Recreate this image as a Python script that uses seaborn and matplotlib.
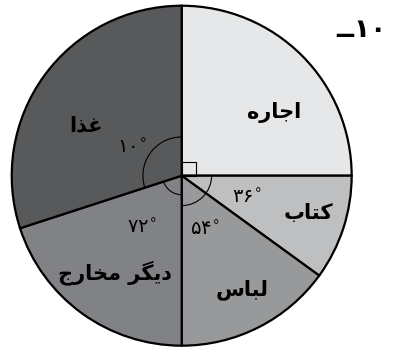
import numpy as np
import seaborn as sns
import matplotlib.pyplot as plt
from matplotlib.patches import Arc, Rectangle

# Data (degrees of each slice, clockwise from the top)
categories = ["اجاره", "کتاب", "لباس", "دیگر مخارج", "غذا"]
angles = [90, 36, 54, 72, 108]
angle_labels = ["", "۳۶", "۵۴", "۷۲", "۱۰"]
colors = ["#e6e7e8", "#bebfc1", "#98999b", "#818285", "#58595b"]
title = "ــ۱۰"

sns.set_theme(style="white")
plt.rcParams["font.family"] = ["DejaVu Sans"]

# matplotlib does no Arabic shaping, so pick the joined forms by hand
forms = {
    "ا": ("\uFE8D", "\uFE8E", None, None),
    "ج": ("\uFE9D", "\uFE9E", "\uFE9F", "\uFEA0"),
    "ر": ("\uFEAD", "\uFEAE", None, None),
    "ه": ("\uFEE9", "\uFEEA", "\uFEEB", "\uFEEC"),
    "ک": ("\uFB8E", "\uFB8F", "\uFB90", "\uFB91"),
    "ت": ("\uFE95", "\uFE96", "\uFE97", "\uFE98"),
    "ب": ("\uFE8F", "\uFE90", "\uFE91", "\uFE92"),
    "ل": ("\uFEDD", "\uFEDE", "\uFEDF", "\uFEE0"),
    "س": ("\uFEB1", "\uFEB2", "\uFEB3", "\uFEB4"),
    "د": ("\uFEA9", "\uFEAA", None, None),
    "ی": ("\uFBFC", "\uFBFD", "\uFBFE", "\uFBFF"),
    "گ": ("\uFB92", "\uFB93", "\uFB94", "\uFB95"),
    "م": ("\uFEE1", "\uFEE2", "\uFEE3", "\uFEE4"),
    "خ": ("\uFEA5", "\uFEA6", "\uFEA7", "\uFEA8"),
    "غ": ("\uFECD", "\uFECE", "\uFECF", "\uFED0"),
    "ذ": ("\uFEAB", "\uFEAC", None, None),
}


def shape(text):
    out = []
    for i, ch in enumerate(text):
        if ch not in forms:
            out.append(ch)
            continue
        prev = text[i - 1] if i > 0 else ""
        nxt = text[i + 1] if i + 1 < len(text) else ""
        join_prev = prev in forms and forms[prev][2] is not None
        join_next = forms[ch][2] is not None and nxt in forms
        if join_prev and join_next:
            out.append(forms[ch][3])
        elif join_prev:
            out.append(forms[ch][1])
        elif join_next:
            out.append(forms[ch][2])
        else:
            out.append(forms[ch][0])
    return "".join(out)[::-1]


fig = plt.figure(figsize=(3.95, 3.47), dpi=100)
ax = fig.add_axes([0, 0, 1, 1])
ax.pie(angles, colors=colors, startangle=90, counterclock=False,
       wedgeprops=dict(edgecolor="black", linewidth=1.6))
ax.set_xlim(-1.069, 1.255)
ax.set_ylim(-1.0076, 1.0335)
ax.axis("off")

# angle marks
ax.add_patch(Rectangle((0, 0), 0.087, 0.082, fill=False, edgecolor="black", lw=0.8))
ax.add_patch(Arc((0, 0), 0.456, 0.456, theta1=90, theta2=198, color="black", lw=0.8))
ax.add_patch(Arc((0, 0), 0.224, 0.224, theta1=198, theta2=270, color="black", lw=0.8))
ax.add_patch(Arc((0, 0), 0.352, 0.352, theta1=270, theta2=360, color="black", lw=0.8))

name_pos = [(0.543, 0.369), (0.743, -0.22), (0.353, -0.672), (-0.392, -0.573), (-0.562, 0.298)]
angle_pos = [(0, 0), (0.38, -0.131), (0.137, -0.319), (-0.235, -0.308), (-0.294, 0.163)]

for name, (x, y) in zip(categories, name_pos):
    ax.text(x, y, shape(name), ha="center", va="center", fontsize=15,
            fontweight="bold", color="black")
for lab, (x, y) in zip(angle_labels, angle_pos):
    if lab:
        ax.text(x, y, lab + r"$^{\circ}$", ha="center", va="center", fontsize=14,
                color="black")

ax.text(1.06, 0.857, title, ha="center", va="center", fontsize=19,
        fontweight="bold", color="black")

fig.savefig("out.png", dpi=100)
